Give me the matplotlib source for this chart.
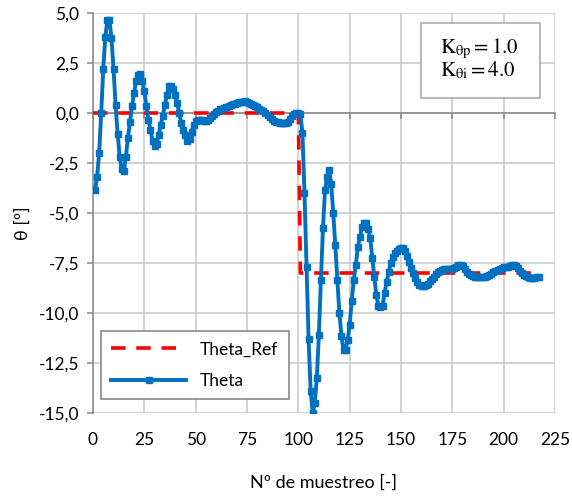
# --- IMPORT LIBRARIES ---
import numpy as np
import matplotlib
matplotlib.use("Agg")
import matplotlib.pyplot as plt
from matplotlib.ticker import FuncFormatter, MultipleLocator, FixedLocator
from matplotlib.patches import Rectangle

plt.rcParams["font.family"] = ["Lato", "DejaVu Sans"]
plt.rcParams["mathtext.fontset"] = "stix"

# --- DATA ---
x_ticks = [0, 25, 50, 75, 100, 125, 150, 175, 200, 225]

ref_x = [0, 100, 101, 218]
ref_y = [0.0, 0.0, -8.0, -8.0]

theta = [
    -3.85, -3.2, -2.0, 0.0, 2.2, 3.8, 4.65, 4.65, 3.75, 2.2,          # 1-10
    0.4, -1.05, -2.2, -2.8, -2.9, -2.2, -1.25, -0.45, 0.35, 1.0,      # 11-20
    1.6, 1.9, 1.95, 1.6, 1.1, 0.35, -0.35, -0.85, -1.4, -1.65,        # 21-30
    -1.55, -1.1, -0.6, -0.15, 0.4, 0.9, 1.35, 1.35, 1.2, 0.9,         # 31-40
    0.5, 0.0, -0.5, -0.85, -1.1, -1.4, -1.3, -0.95, -0.6, -0.42,      # 41-50
    -0.35, -0.33, -0.35, -0.38, -0.4, -0.35, -0.25, -0.15, -0.05, 0.05,  # 51-60
    0.12, 0.18, 0.22, 0.27, 0.32, 0.36, 0.4, 0.43, 0.46, 0.5,         # 61-70
    0.53, 0.55, 0.57, 0.58, 0.55, 0.5, 0.45, 0.4, 0.35, 0.28,         # 71-80
    0.22, 0.15, 0.08, -0.02, -0.12, -0.22, -0.3, -0.38, -0.43, -0.47,  # 81-90
    -0.5, -0.5, -0.5, -0.48, -0.45, -0.3, -0.15, -0.05, 0.0, 0.0,     # 91-100
    -0.05, -1.0, -4.0, -7.7, -11.3, -13.9, -15.0, -14.5, -13.25, -11.1,  # 101-110
    -8.35, -5.75, -3.85, -3.2, -2.85, -3.55, -5.0, -6.6, -8.35, -10.0,   # 111-120
    -11.15, -11.85, -11.85, -11.35, -10.6, -9.4, -8.35, -7.6, -6.7, -6.2,  # 121-130
    -5.7, -5.5, -5.5, -5.8, -6.25, -7.25, -8.2, -9.1, -9.65, -9.7,     # 131-140
    -9.65, -9.0, -8.45, -7.95, -7.5, -7.2, -7.0, -6.9, -6.8, -6.75,    # 141-150
    -6.75, -6.9, -7.15, -7.45, -7.75, -8.0, -8.25, -8.45, -8.6, -8.65,  # 151-160
    -8.65, -8.6, -8.55, -8.4, -8.3, -8.2, -8.05, -7.95, -7.9, -7.85,   # 161-170
    -7.8, -7.78, -7.78, -7.78, -7.8, -7.75, -7.7, -7.62, -7.6, -7.65,  # 171-180
    -7.8, -7.95, -8.05, -8.12, -8.17, -8.18, -8.2, -8.2, -8.2, -8.2,   # 181-190
    -8.2, -8.17, -8.12, -8.05, -7.97, -7.9, -7.85, -7.8, -7.75, -7.72,  # 191-200
    -7.7, -7.68, -7.65, -7.62, -7.6, -7.65, -7.75, -7.88, -8.0, -8.1,  # 201-210
    -8.17, -8.22, -8.25, -8.27, -8.25, -8.22, -8.22,                   # 211-217
]
samples = np.arange(1, len(theta) + 1)

BLUE = "#0070C0"
GRID = "#c8c8c8"
AXIS = "#868686"

fig = plt.figure(figsize=(5.72, 4.99), dpi=100)
ax = fig.add_axes([93 / 572, 1 - 413 / 499, 462 / 572, 400 / 499])

# --- SERIES ---
ax.plot(ref_x, ref_y, color="#FF0000", linestyle=(0, (4, 3)), linewidth=2.6,
        label="Theta_Ref", zorder=3)
ax.plot(samples, theta, color=BLUE, linewidth=2.8, marker="s", markersize=5,
        label="Theta", zorder=4)

# --- AXES ---
ax.set_xlim(0, 225)
ax.set_ylim(-15, 5)
ax.xaxis.set_major_locator(FixedLocator(x_ticks))
ax.yaxis.set_major_locator(MultipleLocator(2.5))
ax.grid(True, color=GRID, linewidth=1.1)
ax.set_axisbelow(True)

for side in ["top", "right"]:
    ax.spines[side].set_visible(False)
ax.spines["left"].set_color(AXIS)
ax.spines["left"].set_linewidth(1.1)
ax.spines["bottom"].set_position(("data", 0))
ax.spines["bottom"].set_color(AXIS)
ax.spines["bottom"].set_linewidth(1.1)

comma = FuncFormatter(lambda v, p: f"{v:.1f}".replace(".", ","))
ax.yaxis.set_major_formatter(comma)
ax.tick_params(axis="y", direction="out", length=4, color=AXIS, width=1.1,
               labelsize=12.5, pad=6)
ax.tick_params(axis="x", direction="out", length=4, color=AXIS, width=1.1,
               labelbottom=False)

# x tick labels at the bottom of the plot area
sec = ax.secondary_xaxis("bottom")
sec.xaxis.set_major_locator(FixedLocator(x_ticks))
sec.tick_params(length=0, labelsize=12.5, pad=14)
sec.spines["bottom"].set_visible(False)

ax.set_xlabel("Nº de muestreo [-]", fontsize=13)
ax.xaxis.set_label_coords(0.5, -0.155)
ax.set_ylabel("θ [º]", fontsize=13)
ax.yaxis.set_label_coords(-0.135, 0.475)

# --- GAIN BOX ---
ax.add_patch(Rectangle((0.709, 0.787), 0.2585, 0.189, transform=ax.transAxes,
                       facecolor="white", edgecolor="#a6a6a6", linewidth=1.1,
                       zorder=5))
ax.text(0.752, 0.9, r"$\mathrm{K}_{\mathrm{\theta p}} = 1.0$", transform=ax.transAxes,
        fontsize=15, va="baseline", zorder=6)
ax.text(0.752, 0.842, r"$\mathrm{K}_{\mathrm{\theta i}} = 4.0$", transform=ax.transAxes,
        fontsize=15, va="baseline", zorder=6)

# --- LEGEND ---
leg = ax.legend(loc="lower left", bbox_to_anchor=(0.017, 0.034), borderaxespad=0,
                fontsize=12.5, handlelength=4.3, labelspacing=0.9, fancybox=False,
                framealpha=1, edgecolor="#808080", borderpad=0.6)
leg.get_frame().set_linewidth(1.1)

fig.savefig("out.png", dpi=100)
